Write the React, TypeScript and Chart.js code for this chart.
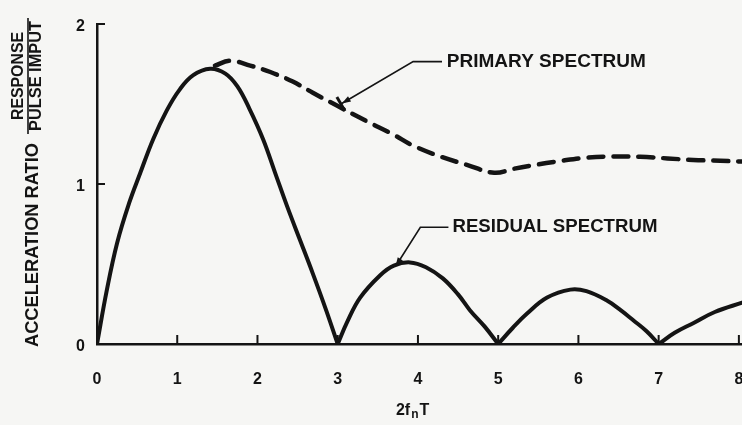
import { useEffect, useRef } from "react";
import { Chart, registerables } from "chart.js";

Chart.register(...registerables);

// ---- data ----
const xTickValues = [0, 1, 2, 3, 4, 5, 6, 7, 8];
const yTickValues = [0, 1, 2];

const residualX = [
  0, 0.12, 0.25, 0.4, 0.54, 0.7, 0.87, 1.03, 1.2, 1.41, 1.6, 1.75, 1.9, 2.07, 2.22, 2.37, 2.53, 2.69, 2.85, 3.0,
  3.12, 3.28, 3.53, 3.7, 3.9, 4.1, 4.31, 4.5, 4.65, 4.83, 5.0,
  5.18, 5.36, 5.61, 5.9, 6.1, 6.36, 6.53, 6.68, 6.85, 7.0,
  7.2, 7.43, 7.7, 8.05,
];
const residualY = [
  0, 0.33, 0.63, 0.88, 1.07, 1.28, 1.46, 1.59, 1.68, 1.72, 1.69, 1.61, 1.47, 1.28, 1.07, 0.86, 0.65, 0.44, 0.22, 0,
  0.14, 0.29, 0.43, 0.49, 0.51, 0.48, 0.41, 0.31, 0.21, 0.11, 0,
  0.1, 0.19, 0.29, 0.34, 0.33, 0.27, 0.21, 0.15, 0.08, 0,
  0.07, 0.13, 0.2, 0.26,
];

const primaryX = [1.47, 1.66, 1.91, 2.16, 2.44, 2.69, 2.99, 3.37, 3.69, 3.94, 4.29, 4.61, 4.95, 5.19, 5.41, 5.79, 6.11, 6.43, 6.77, 7.11, 7.43, 7.77, 8.05];
const primaryY = [1.74, 1.77, 1.74, 1.70, 1.64, 1.57, 1.49, 1.39, 1.31, 1.24, 1.17, 1.12, 1.07, 1.095, 1.115, 1.145, 1.165, 1.172, 1.17, 1.16, 1.15, 1.145, 1.14];

const primaryLabel = "PRIMARY SPECTRUM";
const residualLabel = "RESIDUAL SPECTRUM";
const yTitleMain = "ACCELERATION RATIO";
const yTitleNum = "RESPONSE";
const yTitleDen = "PULSE IMPUT";
const xTitleParts = ["2f", "n", "T"];

const INK = "#141414";
const BG = "#f6f6f4";
const FONT = '"Liberation Sans", Arial, Helvetica, sans-serif';

// split the residual spectrum into its lobes (cusps at the zeros)
function residualLobes() {
  const lobes: { x: number; y: number }[][] = [];
  let cur: { x: number; y: number }[] = [];
  residualX.forEach((x, i) => {
    const p = { x, y: residualY[i] };
    cur.push(p);
    if (residualY[i] === 0 && cur.length > 1) {
      lobes.push(cur);
      cur = [p];
    }
  });
  if (cur.length > 1) lobes.push(cur);
  return lobes;
}

function fitText(
  ctx: CanvasRenderingContext2D,
  text: string,
  x: number,
  y: number,
  size: number,
  width: number,
  align: CanvasTextAlign,
  weight = "bold"
) {
  ctx.save();
  ctx.font = `${weight} ${size}px ${FONT}`;
  const w = ctx.measureText(text).width;
  const s = width / w;
  ctx.translate(x, y);
  ctx.scale(s, 1);
  ctx.textAlign = align;
  ctx.textBaseline = "middle";
  ctx.fillStyle = INK;
  ctx.fillText(text, 0, 0);
  ctx.restore();
}

function drawHead(ctx: CanvasRenderingContext2D, x: number, y: number, ang: number) {
  const len = 9;
  const half = 3;
  ctx.beginPath();
  ctx.moveTo(x + len * Math.cos(ang), y + len * Math.sin(ang));
  ctx.lineTo(x + half * Math.cos(ang + Math.PI / 2), y + half * Math.sin(ang + Math.PI / 2));
  ctx.lineTo(x + half * Math.cos(ang - Math.PI / 2), y + half * Math.sin(ang - Math.PI / 2));
  ctx.closePath();
  ctx.fill();
}

const decorPlugin = {
  id: "decor",
  afterDraw(chart: any) {
    const ctx: CanvasRenderingContext2D = chart.ctx;
    const xs = chart.scales.x;
    const ys = chart.scales.y;
    const px = (v: number) => xs.getPixelForValue(v);
    const py = (v: number) => ys.getPixelForValue(v);
    ctx.save();
    ctx.strokeStyle = INK;
    ctx.fillStyle = INK;
    ctx.lineCap = "butt";

    // inner tick marks
    ctx.lineWidth = 2;
    xTickValues.forEach((v) => {
      if (v === 0) return;
      ctx.beginPath();
      ctx.moveTo(px(v), py(0));
      ctx.lineTo(px(v), py(0) - 9);
      ctx.stroke();
    });
    yTickValues.forEach((v) => {
      if (v === 0) return;
      ctx.beginPath();
      ctx.moveTo(px(0), py(v));
      ctx.lineTo(px(0) + 8, py(v));
      ctx.stroke();
    });

    // leader: primary
    ctx.lineWidth = 1.6;
    const pA = [px(3.04), py(1.5)];
    const pB = [px(3.94), py(1.765)];
    const pC = [px(4.3), py(1.765)];
    ctx.beginPath();
    ctx.moveTo(pA[0], pA[1]);
    ctx.lineTo(pB[0], pB[1]);
    ctx.lineTo(pC[0], pC[1]);
    ctx.stroke();
    const ang1 = Math.atan2(pB[1] - pA[1], pB[0] - pA[0]);
    ctx.lineWidth = 3;
    ctx.beginPath();
    ctx.moveTo(pA[0] - 8 * Math.cos(ang1 + Math.PI / 2), pA[1] - 8 * Math.sin(ang1 + Math.PI / 2));
    ctx.lineTo(pA[0] + 8 * Math.cos(ang1 + Math.PI / 2), pA[1] + 8 * Math.sin(ang1 + Math.PI / 2));
    ctx.stroke();
    drawHead(ctx, pA[0] + 10 * Math.cos(ang1), pA[1] + 10 * Math.sin(ang1), ang1 + Math.PI);

    // leader: residual
    ctx.lineWidth = 1.6;
    const rA = [px(3.74), py(0.5)];
    const rB = [px(4.03), py(0.73)];
    const rC = [px(4.38), py(0.73)];
    ctx.beginPath();
    ctx.moveTo(rA[0], rA[1]);
    ctx.lineTo(rB[0], rB[1]);
    ctx.lineTo(rC[0], rC[1]);
    ctx.stroke();
    const ang2 = Math.atan2(rB[1] - rA[1], rB[0] - rA[0]);
    drawHead(ctx, rA[0] + 6 * Math.cos(ang2), rA[1] + 6 * Math.sin(ang2), ang2 + Math.PI);

    // annotation labels
    fitText(ctx, primaryLabel, px(4.36), py(1.765), 18, 199, "left");
    fitText(ctx, residualLabel, px(4.43), py(0.73), 18, 205, "left");

    // x title 2f_nT
    const tx = px(4.0) - 22;
    const ty = 409;
    ctx.textBaseline = "alphabetic";
    ctx.textAlign = "left";
    ctx.font = `bold 16px ${FONT}`;
    const w1 = ctx.measureText(xTitleParts[0]).width;
    ctx.fillText(xTitleParts[0], tx, ty + 6);
    ctx.font = `bold 12px ${FONT}`;
    const w2 = ctx.measureText(xTitleParts[1]).width;
    ctx.fillText(xTitleParts[1], tx + w1 + 1, ty + 9);
    ctx.font = `bold 16px ${FONT}`;
    ctx.fillText(xTitleParts[2], tx + w1 + w2 + 2, ty + 6);

    // y title (rotated)
    ctx.save();
    ctx.translate(33, 245);
    ctx.rotate(-Math.PI / 2);
    fitText(ctx, yTitleMain, 0, 0, 18, 204, "center");
    ctx.restore();

    ctx.save();
    ctx.translate(28, 76);
    ctx.rotate(-Math.PI / 2);
    fitText(ctx, yTitleNum, 0, -9, 16, 88, "center");
    fitText(ctx, yTitleDen, 0, 9, 16, 110, "center");
    ctx.lineWidth = 1.6;
    ctx.beginPath();
    ctx.moveTo(-58, 0);
    ctx.lineTo(58, 0);
    ctx.stroke();
    ctx.restore();

    ctx.restore();
  },
};

export default function App() {
  const ref = useRef<HTMLCanvasElement | null>(null);

  useEffect(() => {
    if (!ref.current) return;
    const lobeSets = residualLobes().map((lobe, i) => ({
      label: i === 0 ? "Residual spectrum" : `Residual spectrum ${i + 1}`,
      data: lobe,
      borderColor: INK,
      borderWidth: 4,
      pointRadius: 0,
      tension: 0.4,
      borderJoinStyle: "round",
      borderCapStyle: "round",
      fill: false,
    }));
    const chart = new Chart(ref.current, {
      type: "line",
      data: {
        datasets: [
          ...lobeSets,
          {
            label: "Primary spectrum",
            data: primaryX.map((x, i) => ({ x, y: primaryY[i] })),
            borderColor: INK,
            borderWidth: 4.5,
            borderDash: [15, 10],
            borderCapStyle: "round",
            pointRadius: 0,
            tension: 0.4,
            fill: false,
          },
        ],
      },
      options: {
        responsive: false,
        animation: false,
        devicePixelRatio: 1,
        layout: { padding: { top: 24, left: 0, right: 0, bottom: 0 } },
        plugins: { legend: { display: false }, tooltip: { enabled: false } },
        scales: {
          x: {
            type: "linear",
            min: 0,
            max: 8.5,
            afterBuildTicks: (s: any) => {
              s.ticks = xTickValues.map((v) => ({ value: v }));
            },
            afterFit: (s: any) => {
              s.height = 81;
            },
            grid: { display: false, drawTicks: false },
            border: { display: true, color: INK, width: 2.5 },
            ticks: {
              padding: 26,
              color: INK,
              font: { family: FONT, size: 16, weight: "bold" },
              maxRotation: 0,
            },
          },
          y: {
            type: "linear",
            min: 0,
            max: 2,
            afterBuildTicks: (s: any) => {
              s.ticks = yTickValues.map((v) => ({ value: v }));
            },
            afterFit: (s: any) => {
              s.width = 97;
            },
            grid: { display: false, drawTicks: false },
            border: { display: true, color: INK, width: 2.5 },
            ticks: {
              padding: 12,
              labelOffset: 3,
              color: INK,
              font: { family: FONT, size: 16, weight: "bold" },
            },
          },
        },
      },
      plugins: [decorPlugin],
    } as any);
    return () => chart.destroy();
  }, []);

  return (
    <div
      style={{
        position: "fixed",
        left: 0,
        top: 0,
        width: 742,
        height: 425,
        overflow: "hidden",
        background: BG,
      }}
    >
      <canvas ref={ref} width={779} height={425} style={{ display: "block" }} />
    </div>
  );
}
